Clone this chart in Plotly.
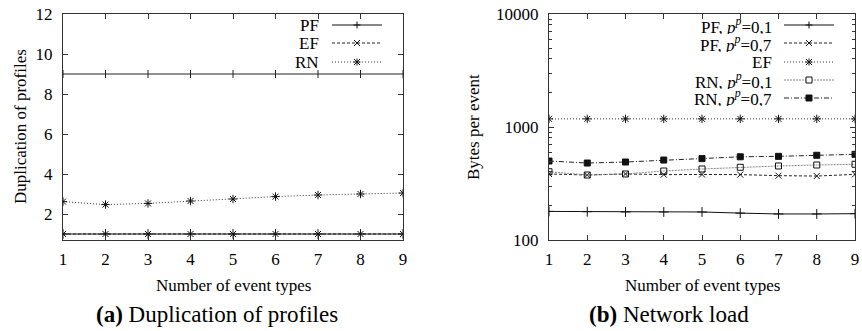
import plotly.graph_objects as go

W, H = 862, 331

# ---------------- data ----------------
event_types = [1, 2, 3, 4, 5, 6, 7, 8, 9]

# (a) Duplication of profiles
dup_pf = [1, 1, 1, 1, 1, 1, 1, 1, 1]
dup_ef = [1, 1, 1, 1, 1, 1, 1, 1, 1]
dup_rn = [2.62, 2.47, 2.53, 2.65, 2.75, 2.87, 2.95, 3.0, 3.05]

# (b) Network load (bytes per event)
load_pf_01 = [179, 178, 177, 177, 177, 173, 170, 170, 171]
load_pf_07 = [384, 376, 384, 379, 380, 379, 371, 368, 381]
load_ef = [1180, 1180, 1180, 1180, 1180, 1180, 1180, 1180, 1180]
load_rn_01 = [402, 376, 384, 408, 425, 440, 452, 461, 468]
load_rn_07 = [500, 480, 490, 510, 525, 545, 550, 562, 573]

dup_yticks = [2, 4, 6, 8, 10, 12]
load_yticks = [100, 1000, 10000]
load_yminor = [200, 300, 400, 500, 600, 700, 800, 900,
               2000, 3000, 4000, 5000, 6000, 7000, 8000, 9000]

FONT = "Liberation Serif, Times New Roman, Times, serif"
INK = "#111111"

# ---------------- styles ----------------
S_SOLID = dict(dash="solid", color=INK)
S_DASH = dict(dash="3px,2px", color="#222222")
S_DOT = dict(dash="1px,2px", color="#333333")
S_DOTL = dict(dash="2px,1px", color="#888888")
S_DDOT = dict(dash="5px,2px,1px,2px", color="#222222")

fig = go.Figure()


def add(x, y, name, style, symbol, size, xa, ya):
    fig.add_trace(go.Scatter(
        x=x, y=y, name=name, mode="lines+markers", xaxis=xa, yaxis=ya,
        showlegend=False,
        line=dict(width=1, dash=style["dash"], color=style["color"]),
        marker=dict(symbol=symbol, size=size, color=INK,
                    line=dict(width=1, color=INK)),
    ))


add(event_types, dup_pf, "PF", S_SOLID, "cross-thin", 7, "x", "y")
add(event_types, dup_ef, "EF", S_DASH, "x-thin", 6, "x", "y")
add(event_types, dup_rn, "RN", S_DOT, "asterisk-open", 7, "x", "y")

add(event_types, load_pf_01, "PF, p=0,1", S_SOLID, "cross-thin", 7, "x2", "y2")
add(event_types, load_pf_07, "PF, p=0,7", S_DASH, "x-thin", 6, "x2", "y2")
add(event_types, load_ef, "EF", S_DOT, "asterisk-open", 7, "x2", "y2")
add(event_types, load_rn_01, "RN, p=0,1", S_DOTL, "square-open", 6, "x2", "y2")
add(event_types, load_rn_07, "RN, p=0,7", S_DDOT, "square", 6, "x2", "y2")

# ---------------- axes ----------------
tickfont = dict(family=FONT, size=17, color="black")
common_x = dict(range=[1, 9], tickvals=event_types, ticks="inside", ticklen=5,
                tickcolor="#333", showline=True, linecolor="#333", linewidth=1,
                mirror="ticks", showgrid=False, zeroline=False, tickfont=tickfont,
                ticklabelstandoff=4, automargin=False)
common_y = dict(ticks="inside", ticklen=5, tickcolor="#333", showline=True,
                linecolor="#333", linewidth=1, mirror="ticks", showgrid=False,
                zeroline=False, tickfont=tickfont, ticklabelstandoff=6,
                automargin=False)

y_dom = [1 - 240 / H, 1 - 14 / H]
fig.update_layout(
    width=W, height=H, margin=dict(l=0, r=0, t=0, b=0, autoexpand=False),
    paper_bgcolor="white", plot_bgcolor="white",
    font=dict(family=FONT, size=17, color="black"),
    xaxis=dict(domain=[63 / W, 403 / W], anchor="y", **common_x),
    yaxis=dict(domain=y_dom, anchor="x", range=[0.7, 12], tickvals=dup_yticks,
               **common_y),
    xaxis2=dict(domain=[549 / W, 855 / W], anchor="y2", **common_x),
    yaxis2=dict(domain=y_dom, anchor="x2", type="log", range=[2, 4],
                tickvals=load_yticks, ticktext=[str(v) for v in load_yticks],
                minor=dict(ticks="inside", ticklen=3, tickcolor="#333",
                           tickvals=load_yminor, showgrid=False),
                **common_y),
    showlegend=False,
)

shapes = []
# separator line in panel (a) at y=9 with ticks
shapes.append(dict(type="line", xref="x domain", yref="y", x0=0, x1=1, y0=9, y1=9,
                   line=dict(color="#222", width=1)))
for v in event_types:
    shapes.append(dict(type="line", xref="x", yref="y", x0=v, x1=v,
                       ysizemode="pixel", yanchor=9, y0=-4, y1=4,
                       line=dict(color="#222", width=1)))

annotations = []


def legend_entry(text, row_y, text_right, line_x0, line_x1, style, kind):
    annotations.append(dict(text=text, xref="paper", yref="paper",
                            x=text_right / W, y=1 - row_y / H, xanchor="right",
                            yanchor="middle", showarrow=False, height=17,
                            borderpad=0, valign="middle",
                            font=dict(family=FONT, size=17, color="black")))
    shapes.append(dict(type="line", xref="paper", yref="paper",
                       x0=line_x0 / W, x1=line_x1 / W, y0=1 - row_y / H, y1=1 - row_y / H,
                       line=dict(width=1, dash=style["dash"], color=style["color"])))
    cx, cy = (line_x0 + line_x1) / 2 / W, 1 - row_y / H
    segs = []
    if kind in ("+", "*"):
        segs += [(-3.5, 0, 3.5, 0), (0, -3.5, 0, 3.5)]
    if kind in ("x", "*"):
        segs += [(-3, -3, 3, 3), (-3, 3, 3, -3)]
    for (a, b, c, d) in segs:
        shapes.append(dict(type="line", xref="paper", yref="paper",
                           xsizemode="pixel", ysizemode="pixel", xanchor=cx, yanchor=cy,
                           x0=a, x1=c, y0=b, y1=d, line=dict(width=1, color=INK)))
    if kind in ("sq", "sqf"):
        shapes.append(dict(type="rect", xref="paper", yref="paper",
                           xsizemode="pixel", ysizemode="pixel", xanchor=cx, yanchor=cy,
                           x0=-3, x1=3, y0=-3, y1=3, line=dict(width=1, color=INK),
                           fillcolor=INK if kind == "sqf" else "white"))


legend_entry("PF", 25, 320, 332, 382, S_SOLID, "+")
legend_entry("EF", 43, 320, 332, 382, S_DASH, "x")
legend_entry("RN", 62, 320, 332, 382, S_DOT, "*")

pp = "<i>p</i><sup><i>p</i></sup>"
legend_entry("PF, " + pp + "=0,1", 25, 773, 784, 834, S_SOLID, "+")
legend_entry("PF, " + pp + "=0,7", 43, 773, 784, 834, S_DASH, "x")
legend_entry("EF", 62, 773, 784, 834, S_DOT, "*")
legend_entry("RN, " + pp + "=0,1", 80, 773, 784, 834, S_DOTL, "sq")
legend_entry("RN, " + pp + "=0,7", 98, 773, 784, 834, S_DDOT, "sqf")


def text(t, x, y, size=17, angle=0):
    annotations.append(dict(text=t, xref="paper", yref="paper", x=x / W, y=1 - y / H,
                            xanchor="center", yanchor="middle", showarrow=False,
                            textangle=angle,
                            font=dict(family=FONT, size=size, color="black")))


text("Number of event types", 233, 285)
text("Number of event types", 702, 285)
text("Duplication of profiles", 20, 127, angle=-90)
text("Bytes per event", 473, 127, angle=-90)
text("<b>(a)</b> Duplication of profiles", 217, 314, size=23)
text("<b>(b)</b> Network load", 669, 314, size=23)

fig.update_layout(shapes=shapes, annotations=annotations)
fig.write_html("out.html")
